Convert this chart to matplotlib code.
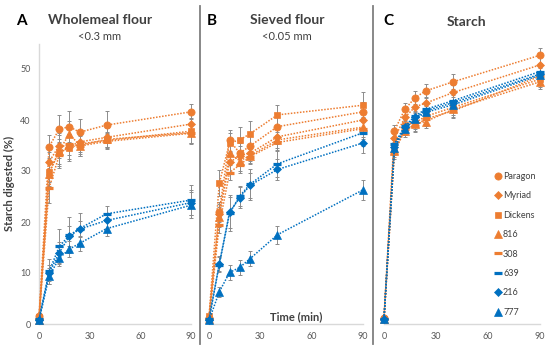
import matplotlib
matplotlib.use("Agg")
import matplotlib.pyplot as plt
from matplotlib.lines import Line2D

plt.rcParams['font.family'] = ['Lato', 'DejaVu Sans']

time = [0, 6, 12, 18, 24, 40, 90]
names = ["Paragon", "Myriad", "Dickens", "816", "308", "639", "216", "777"]

# Panel A: Wholemeal flour
a_vals = [
    [1.5, 34.8, 38.2, 38.7, 37.6, 39.0, 41.6],
    [1.0, 31.8, 35.0, 34.8, 35.7, 36.6, 39.2],
    [1.3, 29.8, 33.8, 34.5, 35.3, 36.0, 37.8],
    [0.8, 29.5, 34.0, 37.3, 35.0, 36.2, 37.5],
    [1.0, 26.7, 33.1, 35.2, 34.9, 35.8, 37.4],
    [1.0, 10.3, 15.2, 17.4, 18.7, 21.6, 24.3],
    [0.8, 10.0, 14.0, 17.2, 18.6, 20.3, 23.8],
    [0.7, 9.4, 12.9, 14.7, 15.8, 18.7, 23.3],
]
a_err = [
    [0.5, 2.3, 2.8, 3.0, 2.6, 2.7, 1.5],
    [0.5, 2.0, 2.5, 2.5, 2.0, 1.8, 2.0],
    [0.5, 2.0, 2.5, 2.5, 2.0, 1.5, 2.5],
    [0.5, 2.5, 3.0, 2.5, 2.0, 1.5, 2.0],
    [0.5, 3.0, 2.5, 2.0, 2.0, 1.5, 2.0],
    [0.5, 2.5, 3.5, 3.5, 3.0, 1.5, 3.0],
    [0.5, 1.5, 2.0, 2.0, 1.5, 1.5, 2.5],
    [0.5, 1.5, 1.5, 1.5, 1.5, 1.5, 2.5],
]
# Panel B: Sieved flour
b_vals = [
    [1.2, 22.0, 36.0, 33.5, 34.9, 38.7, 41.6],
    [1.0, 21.5, 31.7, 33.0, 33.5, 36.7, 40.0],
    [1.5, 27.6, 35.5, 36.1, 37.3, 41.0, 42.9],
    [1.0, 21.0, 33.5, 32.0, 33.0, 36.1, 38.6],
    [1.0, 19.4, 29.7, 31.2, 32.8, 35.6, 38.3],
    [1.0, 11.6, 21.7, 25.1, 27.4, 31.4, 37.5],
    [0.8, 11.8, 21.9, 24.8, 27.2, 30.3, 35.5],
    [0.7, 6.3, 10.1, 11.1, 12.8, 17.5, 26.3],
]
b_err = [
    [0.5, 2.0, 2.0, 2.0, 2.0, 2.0, 2.0],
    [0.5, 2.0, 2.0, 2.0, 1.5, 1.5, 2.0],
    [0.5, 2.5, 2.0, 2.5, 2.5, 2.0, 2.5],
    [0.5, 2.0, 2.0, 2.0, 1.5, 1.5, 2.0],
    [0.5, 1.5, 1.5, 1.5, 1.5, 1.5, 2.0],
    [0.5, 1.5, 3.5, 2.0, 3.0, 2.5, 2.5],
    [0.5, 1.5, 3.0, 2.0, 2.5, 2.0, 2.0],
    [0.5, 1.0, 1.5, 1.5, 1.5, 1.8, 2.0],
]
# Panel C: Starch
c_vals = [
    [1.2, 37.9, 42.1, 44.4, 45.7, 47.5, 52.7],
    [1.0, 36.4, 40.5, 42.6, 43.3, 45.4, 50.8],
    [1.0, 34.3, 39.0, 39.5, 40.7, 42.5, 48.0],
    [1.0, 34.0, 37.8, 39.2, 39.7, 42.1, 47.5],
    [1.0, 33.6, 38.3, 38.9, 40.2, 41.8, 48.6],
    [1.0, 35.3, 38.8, 40.8, 42.1, 43.8, 49.5],
    [1.0, 34.8, 38.6, 40.5, 41.8, 43.4, 49.0],
    [1.0, 34.5, 38.3, 40.2, 41.5, 43.0, 48.8],
]
c_err = [
    [0.5, 1.2, 1.2, 1.3, 1.3, 1.5, 1.5],
    [0.5, 1.2, 1.2, 1.3, 1.3, 1.5, 1.5],
    [0.5, 1.2, 1.2, 1.3, 1.3, 1.5, 1.5],
    [0.5, 1.2, 1.2, 1.3, 1.3, 1.5, 1.5],
    [0.5, 1.2, 1.2, 1.3, 1.3, 1.5, 1.5],
    [0.5, 1.2, 1.2, 1.3, 1.3, 1.5, 1.5],
    [0.5, 1.2, 1.2, 1.3, 1.3, 1.5, 1.5],
    [0.5, 1.2, 1.2, 1.3, 1.3, 1.5, 1.5],
]

ORANGE = "#ED7D31"
BLUE = "#0070C0"
colors = [ORANGE] * 5 + [BLUE] * 3
markers = ["o", "D", "s", "^", "_", "_", "D", "^"]
msizes = [5.2, 4.3, 4.8, 5.2, 6, 6, 4.3, 5.2]
TXT = "#404040"
TICK = "#595959"

fig = plt.figure(figsize=(5.5, 3.52), dpi=100)
W, H = 550, 352
y0px, ytop = 324, 43.5
bottom = (H - y0px) / H
height = (y0px - ytop) / H
panels = [(39, 191), (209, 363), (384, 540)]
axes = []
for (l, r) in panels:
    ax = fig.add_axes([l / W, bottom, (r - l) / W, height])
    axes.append(ax)

data = [(a_vals, a_err), (b_vals, b_err), (c_vals, c_err)]
for i, ax in enumerate(axes):
    vals, errs = data[i]
    for k in range(len(names)):
        ax.errorbar(time, vals[k], yerr=errs[k], fmt='none', ecolor="#8c8c8c",
                    elinewidth=0.7, capsize=1.5, capthick=0.7, zorder=2, clip_on=False)
    for k in range(len(names)):
        mew = 2.3 if markers[k] == "_" else 0.5
        ax.plot(time, vals[k], linestyle=(0, (1, 1)), linewidth=1.1, color=colors[k],
                marker=markers[k], markersize=msizes[k], markeredgewidth=mew,
                markeredgecolor=colors[k], markerfacecolor=colors[k],
                zorder=3, clip_on=False)
    ax.set_xlim(0, 90)
    ax.set_ylim(0, 55)
    ax.set_xticks([0, 30, 60, 90])
    ax.set_yticks([0, 10, 20, 30, 40, 50])
    ax.tick_params(axis='both', length=0, labelsize=6.5, labelcolor=TICK, pad=6)
    for s in ['top', 'right']:
        ax.spines[s].set_visible(False)
    ax.spines['bottom'].set_color("#d9d9d9")
    ax.spines['bottom'].set_linewidth(1.0)
    if i == 0:
        ax.spines['left'].set_color("#d9d9d9")
        ax.spines['left'].set_linewidth(1.0)
        ax.set_ylabel("Starch digested (%)", fontsize=8, fontweight='bold',
                      color=TXT, labelpad=4)
    else:
        ax.spines['left'].set_visible(False)
        ax.set_yticklabels([])
    ax.set_facecolor('none')

axes[1].text(51, 1.4, "Time (min)", fontsize=8, fontweight='bold', color=TXT,
             ha='center', va='center')

# legend
handles = [Line2D([], [], linestyle='none', marker=markers[k], color=colors[k],
                  markersize=msizes[k], markeredgewidth=(2.3 if markers[k] == "_" else 0.5))
           for k in range(len(names))]
leg = axes[2].legend(handles, names, loc='upper left',
                     bbox_to_anchor=((494 - 384) / 156, (y0px - 172) / (y0px - ytop)),
                     frameon=False, fontsize=6.5, labelspacing=1.15,
                     handlelength=0.8, handletextpad=0.2, borderpad=0, borderaxespad=0)
for t in leg.get_texts():
    t.set_color(TXT)

# separators
for xpx in [200, 373]:
    fig.add_artist(Line2D([xpx / W, xpx / W], [1 - 6 / H, 1 - 344 / H],
                          color="#7f7f7f", linewidth=1.3))

# titles
def ft(x, y, s, **kw):
    fig.text(x / W, 1 - y / H, s, color=kw.pop('color', TXT), ha=kw.pop('ha', 'center'),
             va='center', **kw)

ft(21, 21, "A", fontsize=11, fontweight='bold', color='black')
ft(100, 20, "Wholemeal flour", fontsize=10, fontweight='bold')
ft(100, 37, "<0.3 mm", fontsize=8)
ft(212, 21, "B", fontsize=11, fontweight='bold', color='black')
ft(287, 20, "Sieved flour", fontsize=10, fontweight='bold')
ft(287, 36, "<0.05 mm", fontsize=8)
ft(388, 21, "C", fontsize=11, fontweight='bold', color='black')
ft(466, 22, "Starch", fontsize=10, fontweight='bold')

fig.savefig("out.png", dpi=100)
